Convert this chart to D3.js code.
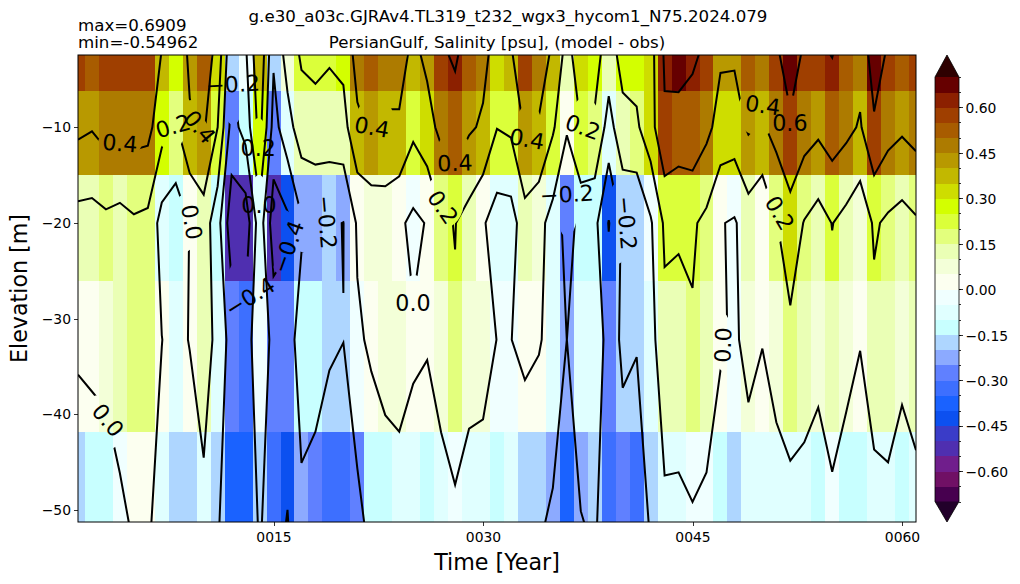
<!DOCTYPE html>
<html>
<head>
<meta charset="utf-8">
<script src="https://d3js.org/d3.v7.min.js"></script>
<style>
  html, body { margin: 0; padding: 0; background: #fff; }
  svg { display: block; }
  text { font-family: "DejaVu Sans", sans-serif; fill: #000; }
  .tick text { font-size: 13.9px; font-family: "DejaVu Sans", sans-serif; }
  .tick line { stroke: #000; stroke-width: 0.8px; shape-rendering: crispEdges; }
  .domain { display: none; }
</style>
</head>
<body>
<svg id="chart" width="1020" height="584"></svg>
<script>
// Salinity bias (model - obs) for the Persian Gulf: years along x, layers along y.
const years = d3.range(1, 62);
const depths = [-2.43, -10, -20, -32.2, -51.4];

const layer0 = [.575,.525,.575,.575,.575,.575,.39,.275,.43,.525,.325,-.175,-.03,.375,-.175,.08,.225,.24,.222,.25,.475,.525,.475,.475,.354,.441,.575,.622,.525,.45,.325,.375,.575,.475,.375,.125,.325,.275,.1,.275,.275,.325,.625,.68,.62,.575,.425,.425,.525,.475,.575,.68,.575,.575,.604,.525,.475,.69,.575,.525,.575];
const layer1 = [.44,.412,.47,.47,.47,.459,.275,.175,.38,.425,.2,-.275,-.125,.275,-.275,-.075,.105,.14,.101,.13,.36,.425,.375,.375,.245,.33,.451,.525,.425,.375,.205,.235,.425,.386,.225,.025,.2,.17,-.075,.131,.17,.325,.575,.525,.545,.452,.325,.31,.425,.375,.475,.575,.49,.442,.505,.452,.38,.575,.475,.43,.475];
const layer2 = [.13,.125,.155,.128,.173,.152,-.075,-.125,.005,.105,-.125,-.525,-.525,-.09,-.505,-.445,-.225,-.219,-.178,-.203,.022,.054,.091,.034,-.045,.012,.175,.205,.125,.021,-.095,-.09,.12,.06,-.075,-.275,-.145,-.149,-.41,-.165,-.189,-.025,.232,.22,.225,.152,.01,-.02,.101,.025,.19,.315,.19,.12,.205,.14,.06,.225,.166,.128,.176];
const layer3 = [.041,.049,.075,.125,.175,.175,.003,-.075,.011,.125,-.075,-.275,-.325,-.025,-.275,-.275,-.125,-.125,-.175,-.198,-.025,.026,.087,.075,.0236,.0156,.0765,.183,.075,.075,-.003,-.003,.049,.0158,-.063,-.2005,-.075,-.075,-.275,-.1735,-.187,-.075,.147,.145,.18,.125,.025,-.025,.051,.005,.075,.152,.125,.075,.125,.075,.008,.145,.125,.075,.125];
const layer4 = [-.175,-.125,-.125,-.047,.025,.025,-.075,-.175,-.175,-.07,-.175,-.375,-.375,-.175,-.325,-.41,-.237,-.275,-.325,-.325,-.275,-.125,-.125,-.075,-.075,-.125,-.075,-.049,-.08,-.098,-.125,-.075,-.175,-.175,-.233,-.375,-.209,-.175,-.325,-.275,-.325,-.18,-.052,-.056,-.024,-.048,-.125,-.175,-.099,-.099,-.092,-.079,-.099,-.129,-.049,-.115,-.125,-.098,-.0625,-.136,-.083];
const layers = [layer0, layer1, layer2, layer3, layer4];

const boundaries = d3.range(-14, 15).map(d => d * 0.05);
const bandColors = ["#47004f","#701065","#701e8c","#4f2fb0","#3a3cc8","#0c50f0","#1a62ff","#3d6fff","#6080ff","#8caaff","#aed6ff","#c8ffff","#e0ffff","#f0ffff","#fcfff0","#f3ffd8","#eaffb5","#e3ff7d","#dbff3a","#d3ff00","#cedd00","#c2b800","#b89900","#ad7b00","#a85c00","#9f3f00","#8c2000","#660000"];
const underColor = "#22002a";
const overColor = "#2e0000";
const contourLevels = [-0.6, -0.4, -0.2, 0, 0.2, 0.4, 0.6];
const yTicks = [-10, -20, -30, -40, -50];
const xTicks = [15, 30, 45, 60];
const barMajor = [-0.6, -0.45, -0.3, -0.15, 0, 0.15, 0.3, 0.45, 0.6];
const barMinor = d3.range(-14, 15).map(d => d * 0.05);

// Inline contour labels: level, year, depth, text angle.
const contourLabels = [
  [0.4, 4.0, -11.64, 5], [0.2, 7.8, -9.87, -16], [0.4, 9.73, -9.97, 50], [-0.2, 12.1, -5.48, -3],
  [0.2, 13.9, -12.17, 0], [0.0, 13.96, -18.12, 0], [0.0, 9.16, -19.9, 80], [-0.2, 18.82, -19.9, 85],
  [-0.4, 16.03, -22.5, -70], [-0.4, 13.3, -27.7, -32], [0.0, 3.15, -40.6, 50], [0.4, 22.05, -9.97, 10],
  [0.4, 27.99, -13.73, -2], [0.4, 33.14, -11.23, 10], [0.2, 37.15, -9.97, 20], [0.2, 27.13, -18.33, 55],
  [-0.2, 36.0, -16.97, -3], [-0.2, 40.3, -20.0, 85], [0.0, 24.98, -28.36, 0], [0.4, 50.03, -7.67, 8],
  [0.6, 51.97, -9.55, 0], [0.2, 51.25, -18.96, 60], [0.0, 47.17, -32.75, -88]
];

// Where each level's own line is broken for a label: level, year, depth, pixel radii.
const contourGaps = [
  [0.4, 4.01, -11.64, 22, 14], [0.2, 7.66, -10.08, 13.5, 24], [0.4, 9.59, -10.08, 10, 10], [0.4, 9.16, -8.4, 12, 12],
  [-0.2, 12.1, -5.48, 12, 41], [0.2, 13.92, -12.06, 10, 29], [0.0, 13.96, -18.12, 10, 30], [0.0, 8.66, -20.0, 13, 29],
  [-0.2, 17.75, -20.42, 27, 27], [-0.4, 15.82, -22.09, 11.5, 33], [-0.4, 15.5, -24.6, 7, 7], [-0.4, 12.96, -27.21, 20, 36],
  [0.0, 2.65, -40.9, 28, 28], [0.4, 22.26, -9.45, 19.5, 25], [0.4, 27.92, -13.21, 19, 26], [0.4, 33.29, -10.49, 14, 28],
  [0.2, 37.3, -9.66, 15, 27], [0.2, 27.2, -17.7, 20, 27], [-0.2, 36.01, -17.29, 12, 40], [-0.2, 39.66, -20.0, 12, 41],
  [0.0, 25.06, -28.15, 14, 26], [0.4, 49.76, -8.4, 22, 24], [0.6, 51.98, -8.72, 15, 20], [0.2, 50.9, -19.06, 18, 29],
  [0.0, 47.18, -32.43, 9, 29]
];

const svg = d3.select("#chart");
const defs = svg.append("defs");
const margin = { left: 78, right: 916, top: 55, bottom: 522 };

const x = d3.scaleLinear().domain([1, 61]).range([margin.left, margin.right]);
const y = d3.scaleLinear().domain([-2.45, -51.24]).range([margin.top, margin.bottom]);
const color = d3.scaleThreshold().domain(boundaries.slice(1, -1)).range(bandColors);

const minusSign = s => s.replace("-", "\u2212");

defs.append("clipPath").attr("id", "plotClip")
  .append("rect")
  .attr("x", margin.left).attr("y", margin.top)
  .attr("width", margin.right - margin.left).attr("height", margin.bottom - margin.top);

// Cells are centred on each year and layer, with edges halfway between neighbours.
const xEdges = [years[0] - 0.5, ...d3.pairs(years, (a, b) => (a + b) / 2), years[years.length - 1] + 0.5];
const yEdges = [depths[0] + 2, ...d3.pairs(depths, (a, b) => (a + b) / 2), depths[depths.length - 1] - 2];

const cells = [];
layers.forEach((row, r) => row.forEach((v, c) => cells.push({ r, c, v })));

svg.append("g").attr("clip-path", "url(#plotClip)")
  .selectAll("rect").data(cells).join("rect")
  .attr("x", d => x(xEdges[d.c]))
  .attr("y", d => y(yEdges[d.r]))
  .attr("width", d => x(xEdges[d.c + 1]) - x(xEdges[d.c]) + 0.4)
  .attr("height", d => y(yEdges[d.r + 1]) - y(yEdges[d.r]) + 0.4)
  .attr("fill", d => color(d.v))
  .attr("shape-rendering", "crispEdges");

// Contours come from d3.contours; ring points on the padding outside the grid are dropped,
// which leaves open lines ending on the grid edge.
const nx = years.length, ny = depths.length;
const flat = layers.flat();
const contourGen = d3.contours().size([nx, ny]).thresholds(contourLevels);
const colToYear = d3.scaleLinear().domain(years.map((_, i) => i)).range(years);
const rowToDepth = d3.scaleLinear().domain(depths.map((_, i) => i)).range(depths);

function openRuns(ring) {
  const inside = p => p[0] >= 0.5 && p[0] <= nx - 0.5 && p[1] >= 0.5 && p[1] <= ny - 0.5;
  const pts = ring.slice(0, -1);
  const start = pts.findIndex(p => !inside(p));
  if (start < 0) return [ring];
  const rotated = pts.slice(start).concat(pts.slice(0, start));
  const runs = [];
  let run = [];
  rotated.forEach(p => {
    if (inside(p)) run.push(p);
    else { if (run.length > 1) runs.push(run); run = []; }
  });
  if (run.length > 1) runs.push(run);
  return runs;
}

const line = d3.line()
  .x(p => x(colToYear(p[0] - 0.5)))
  .y(p => y(rowToDepth(p[1] - 0.5)));

const contourLayer = svg.append("g").attr("clip-path", "url(#plotClip)");

contourGen(flat).forEach((level, i) => {
  const paths = [];
  level.coordinates.forEach(poly => poly.forEach(ring => {
    openRuns(ring).forEach(run => paths.push(line(run)));
  }));

  // Each level gets its own mask, so a label only breaks the line it belongs to.
  const maskId = `gaps${i}`;
  const mask = defs.append("mask").attr("id", maskId)
    .attr("maskUnits", "userSpaceOnUse")
    .attr("x", 0).attr("y", 0).attr("width", 1020).attr("height", 584);
  mask.append("rect").attr("width", 1020).attr("height", 584).attr("fill", "#fff");
  mask.selectAll("ellipse")
    .data(contourGaps.filter(g => Math.abs(g[0] - level.value) < 1e-6))
    .join("ellipse")
    .attr("cx", g => x(g[1])).attr("cy", g => y(g[2]))
    .attr("rx", g => g[3]).attr("ry", g => g[4])
    .attr("fill", "#000");

  contourLayer.append("g").attr("mask", `url(#${maskId})`)
    .selectAll("path").data(paths).join("path")
    .attr("d", d => d)
    .attr("fill", "none")
    .attr("stroke", "#000")
    .attr("stroke-width", 2)
    .attr("stroke-linejoin", "miter");
});

svg.append("g").selectAll("text").data(contourLabels).join("text")
  .attr("transform", d => `translate(${x(d[1])},${y(d[2])}) rotate(${d[3]})`)
  .attr("text-anchor", "middle")
  .attr("dy", "0.36em")
  .style("font-size", "22.2px")
  .text(d => minusSign(d3.format(".1f")(d[0])));

// Plot frame and axes
svg.append("rect")
  .attr("x", margin.left).attr("y", margin.top)
  .attr("width", margin.right - margin.left).attr("height", margin.bottom - margin.top)
  .attr("fill", "none").attr("stroke", "#000").attr("stroke-width", 1);

svg.append("g").attr("transform", `translate(${margin.left},0)`)
  .call(d3.axisLeft(y).tickValues(yTicks).tickSize(4).tickPadding(3).tickFormat(d => minusSign(String(d))));

svg.append("g").attr("transform", `translate(0,${margin.bottom})`)
  .call(d3.axisBottom(x).tickValues(xTicks).tickSize(4).tickPadding(6).tickFormat(d3.format("04d")));

svg.append("text").attr("x", 497).attr("y", 570).attr("text-anchor", "middle")
  .style("font-size", "22.2px").text("Time [Year]");
svg.append("text").attr("transform", "translate(27,288.5) rotate(-90)").attr("text-anchor", "middle")
  .style("font-size", "22.2px").text("Elevation [m]");

svg.append("text").attr("x", 508).attr("y", 22).attr("text-anchor", "middle")
  .style("font-size", "16.67px").text("g.e30_a03c.GJRAv4.TL319_t232_wgx3_hycom1_N75.2024.079");
svg.append("text").attr("x", 497).attr("y", 48).attr("text-anchor", "middle")
  .style("font-size", "16.67px").text("PersianGulf, Salinity [psu], (model - obs)");
svg.append("text").attr("x", 78).attr("y", 31).style("font-size", "16.67px").text("max=0.6909");
svg.append("text").attr("x", 78).attr("y", 48).style("font-size", "16.67px").text("min=-0.54962");

// Colour bar with triangular extensions
const barLeft = 935, barRight = 959;
const bar = d3.scaleLinear().domain([-0.7, 0.7]).range([501.5, 77]);

const bands = d3.pairs(boundaries);
svg.append("g").selectAll("rect").data(bands).join("rect")
  .attr("x", barLeft).attr("width", barRight - barLeft)
  .attr("y", d => bar(d[1])).attr("height", d => bar(d[0]) - bar(d[1]) + 0.4)
  .attr("fill", d => color((d[0] + d[1]) / 2))
  .attr("shape-rendering", "crispEdges");

const barMid = (barLeft + barRight) / 2;
svg.append("path").attr("d", `M${barLeft},${bar(0.7)}L${barMid},${margin.top}L${barRight},${bar(0.7)}Z`).attr("fill", overColor);
svg.append("path").attr("d", `M${barLeft},${bar(-0.7)}L${barMid},${margin.bottom}L${barRight},${bar(-0.7)}Z`).attr("fill", underColor);
svg.append("path")
  .attr("d", `M${barLeft},${bar(0.7)}L${barMid},${margin.top}L${barRight},${bar(0.7)}L${barRight},${bar(-0.7)}L${barMid},${margin.bottom}L${barLeft},${bar(-0.7)}Z`)
  .attr("fill", "none").attr("stroke", "#000").attr("stroke-width", 0.8);

svg.append("g").attr("transform", `translate(${barRight},0)`)
  .call(d3.axisRight(bar).tickValues(barMinor).tickSize(2).tickFormat(""));
svg.append("g").attr("transform", `translate(${barRight},0)`)
  .call(d3.axisRight(bar).tickValues(barMajor).tickSize(4).tickPadding(2.5)
    .tickFormat(d => minusSign(d3.format(".2f")(Math.abs(d) < 1e-9 ? 0 : d))))
  .selectAll("text").attr("dy", "0.38em");
</script>
</body>
</html>
